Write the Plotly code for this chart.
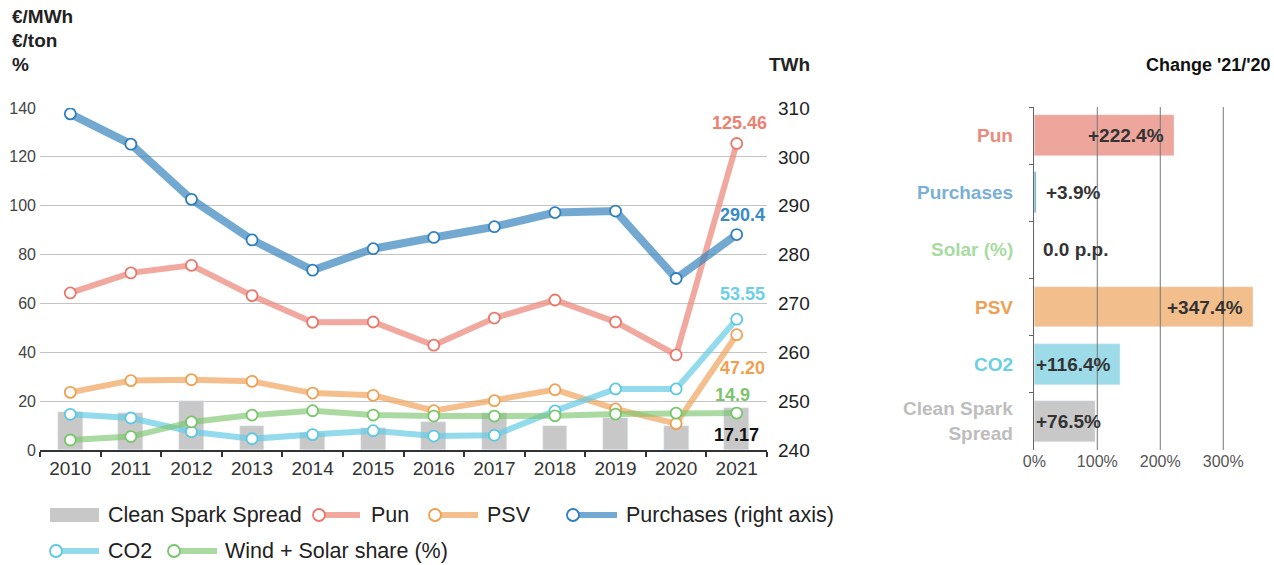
import plotly.graph_objects as go

W, H = 1274, 565
FONT = "Liberation Sans, Arial, sans-serif"

# ---------------- data ----------------
years = ["2010", "2011", "2012", "2013", "2014", "2015", "2016", "2017", "2018", "2019", "2020", "2021"]
clean_spark_spread = [15.7, 15.3, 20.0, 9.8, 7.1, 8.9, 11.6, 15.0, 9.9, 13.0, 9.9, 17.17]
pun = [64.3, 72.5, 75.6, 63.2, 52.3, 52.4, 42.9, 54.0, 61.4, 52.4, 38.9, 125.46]
psv = [23.6, 28.4, 28.8, 28.1, 23.3, 22.4, 16.1, 20.2, 24.7, 16.8, 10.8, 47.2]
co2 = [14.6, 13.1, 7.5, 4.6, 6.3, 7.9, 5.7, 6.0, 16.0, 25.0, 25.0, 53.55]
wind_solar = [4.1, 5.5, 11.5, 14.3, 16.1, 14.3, 13.9, 13.9, 14.0, 14.7, 15.1, 15.1]
purchases = [308.8, 302.6, 291.3, 283.0, 276.8, 281.2, 283.5, 285.7, 288.6, 288.9, 275.1, 284.1]

end_labels = ["125.46", "290.4", "53.55", "47.20", "14.9", "17.17"]

change_cats = ["Pun", "Purchases", "Solar (%)", "PSV", "CO2", "Clean Spark<br>Spread"]
change_labels = ["+222.4%", "+3.9%", "0.0 p.p.", "+347.4%", "+116.4%", "+76.5%"]
change_bar = [222.4, 3.9, 0.0, 347.4, 137.0, 96.5]
change_ticks = [0, 100, 200, 300]
change_ticktext = ["0%", "100%", "200%", "300%"]

# ---------------- styles ----------------
C_CSS = "#c8c8c8"
C_PUN_L, C_PUN_M = "rgba(236,135,122,0.72)", "#e9776b"
C_PSV_L, C_PSV_M = "rgba(240,164,92,0.70)", "#f0a050"
C_PUR_L, C_PUR_M = "rgba(55,132,190,0.70)", "#2f7fbf"
C_CO2_L, C_CO2_M = "rgba(104,204,228,0.72)", "#5cc8e2"
C_WIN_L, C_WIN_M = "rgba(124,198,110,0.65)", "#76c66a"


def px(p):
    return p / W


def py(p):
    return 1 - p / H


left_dom_x = [px(40), px(767)]
left_dom_y = [py(450), py(108)]
right_dom_x = [px(1034.3), px(1260)]
right_dom_y = [py(450), py(107)]

fig = go.Figure()

fig.add_trace(go.Bar(x=years, y=clean_spark_spread, marker_color=C_CSS, width=0.41,
                     xaxis="x", yaxis="y", name="Clean Spark Spread"))


def line_trace(y, lc, mc, lw, yaxis="y", name=""):
    return go.Scatter(x=years, y=y, mode="lines+markers", name=name,
                      line=dict(color=lc, width=lw),
                      marker=dict(size=11, color="white", line=dict(color=mc, width=1.8)),
                      xaxis="x", yaxis=yaxis)


fig.add_trace(line_trace(pun, C_PUN_L, C_PUN_M, 6, name="Pun"))
fig.add_trace(line_trace(psv, C_PSV_L, C_PSV_M, 6, name="PSV"))
fig.add_trace(line_trace(co2, C_CO2_L, C_CO2_M, 6, name="CO2"))
fig.add_trace(line_trace(wind_solar, C_WIN_L, C_WIN_M, 6, name="Wind + Solar share (%)"))
fig.add_trace(line_trace(purchases, C_PUR_L, C_PUR_M, 8, yaxis="y2", name="Purchases"))

# right panel
bar_colors = ["#eea59b", "#6aa6d0", "#a8dba0", "#f2bf8c", "#9ddbe9", "#c8c8c8"]
fig.add_trace(go.Bar(x=change_bar, y=change_cats, orientation="h", width=0.71,
                     marker_color=bar_colors, xaxis="x3", yaxis="y3"))

annotations = []
shapes = []

# end labels on the left chart
lab_specs = [  # (text, color, x, y(left axis), xanchor)
    (end_labels[0], "#ec8172", 11.05, 133.9, "center"),
    (end_labels[1], "#3a8ac4", 11.5, 96.2, "right"),
    (end_labels[2], "#6dd0e6", 11.5, 63.9, "right"),
    (end_labels[3], "#f0a050", 11.5, 33.6, "right"),
    (end_labels[4], "#7cc46e", 11.26, 22.5, "right"),
    (end_labels[5], "#111111", 11.4, 6.1, "right"),
]
for t, c, x, y, xa in lab_specs:
    annotations.append(dict(text=f"<b>{t}</b>", x=x, y=y, xref="x", yref="y", xanchor=xa,
                            yanchor="middle", showarrow=False,
                            font=dict(family=FONT, size=18, color=c)))

# axis unit titles
for t, yy in [("€/MWh", 16), ("€/ton", 40), ("%", 65)]:
    annotations.append(dict(text=f"<b>{t}</b>", x=px(10), y=py(yy), xref="paper", yref="paper",
                            xanchor="left", yanchor="middle", showarrow=False,
                            font=dict(family=FONT, size=19, color="#222")))
annotations.append(dict(text="<b>TWh</b>", x=px(812), y=py(65), xref="paper", yref="paper",
                        xanchor="right", yanchor="middle", showarrow=False,
                        font=dict(family=FONT, size=19, color="#222")))
annotations.append(dict(text="<b>Change '21/'20</b>", x=px(1273), y=py(65), xref="paper", yref="paper",
                        xanchor="right", yanchor="middle", showarrow=False,
                        font=dict(family=FONT, size=18, color="#111")))

# right panel category labels
cat_colors = ["#ec8a7e", "#7aafd6", "#a8dba0", "#f0a055", "#6ad0e4", "#bdbdbd"]
for cat, col in zip(change_cats, cat_colors):
    annotations.append(dict(text=f"<b>{cat}</b>", x=px(1015), y=cat, xref="paper", yref="y3",
                            xanchor="right", yanchor="middle", align="right", showarrow=False,
                            font=dict(family=FONT, size=19, color=col)))

# right panel value labels
modes = ["end", "out", "out", "end", "start", "start"]
for cat, lab, val, m in zip(change_cats, change_labels, change_bar, modes):
    if m == "end":
        x, xa, xs = val, "right", -8
    elif m == "out":
        x, xa, xs = val, "left", 7
    else:
        x, xa, xs = 0, "left", 0
    annotations.append(dict(text=f"<b>{lab}</b>", x=x, y=cat, xref="x3", yref="y3", xanchor=xa,
                            xshift=xs, yanchor="middle", showarrow=False,
                            font=dict(family=FONT, size=19, color="#333")))

# right panel vertical gridlines above bars
for v in change_ticks[1:]:
    shapes.append(dict(type="line", xref="x3", yref="paper", x0=v, x1=v,
                       y0=right_dom_y[0], y1=right_dom_y[1], layer="above",
                       line=dict(color="#777", width=1)))

# manual legend
ROW1, ROW2 = 515, 551
shapes.append(dict(type="rect", xref="paper", yref="paper", x0=px(50), x1=px(99),
                   y0=py(ROW1 + 7), y1=py(ROW1 - 7), fillcolor=C_CSS, line=dict(width=0)))
leg_lines = [  # (circle x, line end x, row, line color, marker color, text x, text)
    (319, 360, ROW1, C_PUN_L, C_PUN_M, 369, "Pun"),
    (435, 478, ROW1, C_PSV_L, C_PSV_M, 485, "PSV"),
    (573, 617, ROW1, C_PUR_L, C_PUR_M, 624, "Purchases (right axis)"),
    (56, 99, ROW2, C_CO2_L, C_CO2_M, 106, "CO2"),
    (174, 217, ROW2, C_WIN_L, C_WIN_M, 223, "Wind + Solar share (%)"),
]
annotations.append(dict(text="Clean Spark Spread", x=px(106), y=py(ROW1), xref="paper", yref="paper",
                        xanchor="left", yanchor="middle", showarrow=False,
                        font=dict(family=FONT, size=21.5, color="#222")))
for cx, lx, row, lc, mc, tx, t in leg_lines:
    shapes.append(dict(type="line", xref="paper", yref="paper", x0=px(cx), x1=px(lx),
                       y0=py(row), y1=py(row), line=dict(color=lc, width=6)))
    shapes.append(dict(type="circle", xref="paper", yref="paper", xsizemode="pixel", ysizemode="pixel",
                       xanchor=px(cx), yanchor=py(row), x0=-6, x1=6, y0=-6, y1=6,
                       fillcolor="white", line=dict(color=mc, width=1.8)))
    annotations.append(dict(text=t, x=px(tx), y=py(row), xref="paper", yref="paper",
                            xanchor="left", yanchor="middle", showarrow=False,
                            font=dict(family=FONT, size=21.5, color="#222")))

fig.update_layout(
    width=W, height=H,
    margin=dict(l=0, r=0, t=0, b=0, pad=0, autoexpand=False),
    paper_bgcolor="white", plot_bgcolor="white",
    showlegend=False,
    hovermode=False,
    font=dict(family=FONT),
    bargap=0,
    xaxis=dict(domain=left_dom_x, type="category", range=[-0.5, 11.5], tickson="boundaries",
               ticks="outside", ticklen=5, tickcolor="#333", tickwidth=1.5,
               showline=True, linecolor="#333", linewidth=2, showgrid=False, automargin=False,
               tickfont=dict(size=19, color="#333"), anchor="y"),
    yaxis=dict(domain=left_dom_y, range=[0, 140], dtick=20, showgrid=True, gridcolor="#c4c4c4",
               gridwidth=1.3, zeroline=False, ticks="", tickfont=dict(size=16, color="#444"),
               ticklabelstandoff=3, anchor="x", automargin=False),
    yaxis2=dict(overlaying="y", side="right", range=[240, 310], dtick=10, showgrid=False,
                zeroline=False, ticks="", tickfont=dict(size=19, color="#222"),
                ticklabelstandoff=10, anchor="x", automargin=False),
    xaxis3=dict(domain=right_dom_x, range=[0, 358.3], tickvals=change_ticks, ticktext=change_ticktext,
                showgrid=False, zeroline=False, ticks="", tickfont=dict(size=16, color="#555"),
                anchor="y3", automargin=False),
    yaxis3=dict(domain=right_dom_y, type="category", range=[5.5, -0.5], tickson="boundaries",
                ticks="outside", ticklen=4, tickcolor="#666", showline=True, linecolor="#666",
                linewidth=1, showticklabels=False, showgrid=False, anchor="x3", automargin=False),
    annotations=annotations,
    shapes=shapes,
)

fig.write_html("out.html", config={"displayModeBar": False},
               post_script="document.body.style.margin='0';document.body.style.overflow='hidden';")
